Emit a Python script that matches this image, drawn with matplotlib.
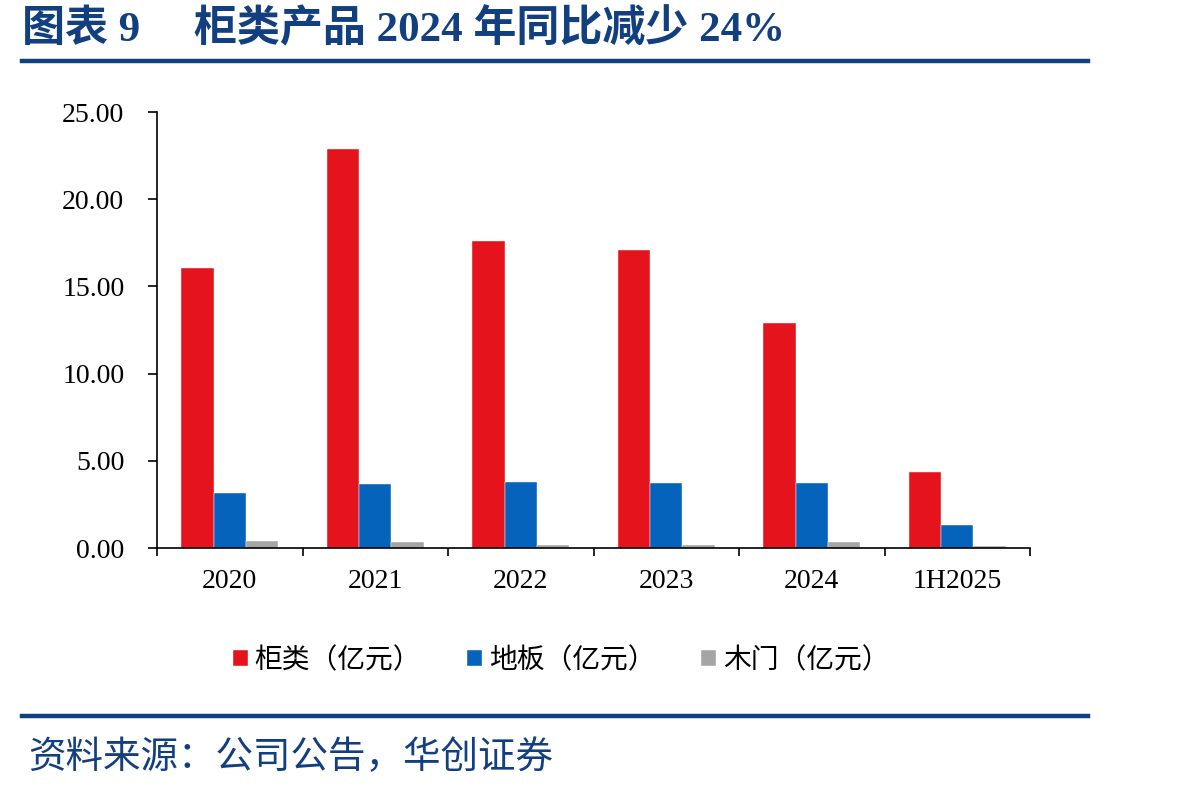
import matplotlib
matplotlib.use("Agg")
import matplotlib.pyplot as plt
import numpy as np

categories = ["2020", "2021", "2022", "2023", "2024", "1H2025"]
cabinet = [16.05, 22.88, 17.60, 17.09, 12.90, 4.36]
floor = [3.17, 3.69, 3.80, 3.72, 3.75, 1.34]
door = [0.42, 0.34, 0.19, 0.19, 0.36, 0.13]
series_names = ["柜类（亿元）", "地板（亿元）", "木门（亿元）"]
yticks = [0, 5, 10, 15, 20, 25]

colors = ["#e5141c", "#0563bb", "#a5a5a5"]
navy = "#123f80"
serif = ["Liberation Serif", "Noto Sans CJK SC"]
sans = ["Noto Sans CJK SC", "DejaVu Sans"]

fig = plt.figure(figsize=(11.98, 7.92), dpi=100)
ax = fig.add_axes([157 / 1198, 1 - 548 / 792, 873 / 1198, 436 / 792])

x = np.arange(len(categories))
w = 0.223
for i, (vals, name) in enumerate(zip([cabinet, floor, door], series_names)):
    ax.bar(x + (i - 1) * w, vals, width=w, color=colors[i], label=name,
           edgecolor="white", linewidth=0.3)

ax.set_xlim(-0.5, len(categories) - 0.5)
ax.set_ylim(0, 25)
ax.set_yticks(yticks)
ax.set_yticklabels([f"{v:.2f}" for v in yticks], fontfamily=serif, fontsize=20)
ax.set_xticks(x)
ax.set_xticklabels(categories, fontfamily=serif, fontsize=20)
ax.tick_params(axis="x", length=0, pad=15)
ax.set_xticks(np.arange(-0.5, len(categories)), minor=True)
ax.tick_params(axis="x", which="minor", length=6, width=1.2, direction="out")
ax.tick_params(axis="y", length=6.5, width=1.2, direction="out", pad=17)
for s in ["top", "right"]:
    ax.spines[s].set_visible(False)
ax.spines["left"].set_linewidth(1.2)
ax.spines["bottom"].set_linewidth(1.2)

leg = ax.legend(loc="upper center", bbox_to_anchor=(0.463, -0.165), ncol=3,
                frameon=False, prop={"family": sans, "size": 20},
                handlelength=0.55, handleheight=0.55, handletextpad=0.25,
                columnspacing=1.64)

fig.text(22 / 1198, 1 - 30 / 792, "图表 9     柜类产品 2024 年同比减少 24%",
         fontfamily=serif, fontsize=31, fontweight="bold", color=navy, va="center")
fig.add_artist(plt.Line2D([22 / 1198, 1088 / 1198], [1 - 61 / 792] * 2,
                          color=navy, linewidth=3.2))
fig.add_artist(plt.Line2D([22 / 1198, 1088 / 1198], [1 - 716 / 792] * 2,
                          color=navy, linewidth=3.2))
fig.text(28 / 1198, 1 - 758 / 792, "资料来源：公司公告，华创证券",
         fontfamily=sans, fontsize=27, style="italic", color=navy, va="center")

fig.savefig("out.png", dpi=100)
